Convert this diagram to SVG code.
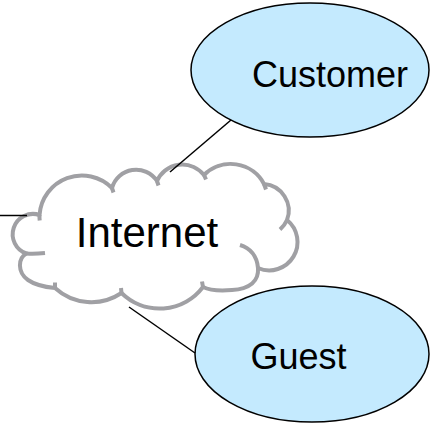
<svg xmlns="http://www.w3.org/2000/svg" width="435" height="425" viewBox="0 0 435 425">
  <style>
    .ell { fill: #c4eafe; stroke: #000; stroke-width: 1.5; }
    .cloud { fill: #fff; stroke: #a0a0a4; stroke-width: 4; stroke-linejoin: round; }
    .tick { fill: none; stroke: #a0a0a4; stroke-width: 4; }
    .lbl { font-family: "Liberation Sans", Arial, sans-serif; fill: #000; text-anchor: middle; }
    .conn { stroke: #000; stroke-width: 1.5; fill: none; }
  </style>
  <rect width="435" height="425" fill="#fff"/>
  <g id="customer">
    <ellipse class="ell" cx="310" cy="70" rx="119" ry="67"/>
    <text class="lbl" x="330" y="87" font-size="36">Customer</text>
  </g>
  <g id="guest">
    <ellipse class="ell" cx="312" cy="354" rx="117" ry="68"/>
    <text class="lbl" x="298.5" y="369" font-size="36">Guest</text>
  </g>
  <g id="internet">
    <path class="cloud" d="M39.5,215 A42.5,42.5 0 0 1 112,188 A25,25 0 0 1 157,181 A27.7,27.7 0 0 1 204,175 A37.7,37.7 0 0 1 264,184 A26.7,26.7 0 0 1 287,220 A28.3,28.3 0 0 1 258,268 C259,281 250,289 232,290 C220,291 209,290 203,287 A54.5,54.5 0 0 1 121.5,293 A54,54 0 0 1 55,288 C45,287 35,285 28,280 C17,272 18,258 26.5,253.5 A20,20 0 1 1 39.5,215 Z"/>
    <path class="tick" d="M39.5,215 A42.5,42.5 0 0 0 39.7,220.5"/>
    <path class="tick" d="M112,188 L113.5,192.5"/>
    <path class="tick" d="M157,181 L158.5,185.5"/>
    <path class="tick" d="M204,175 L206,179.5"/>
    <path class="tick" d="M264,184 L266,189.5"/>
    <path class="tick" d="M287,220 A26.7,26.7 0 0 1 280,229.5"/>
    <path class="tick" d="M240,245 C250,248 257,256 258,268"/>
    <path class="tick" d="M203,287 L202,281.5"/>
    <path class="tick" d="M121.5,293 L121,288"/>
    <path class="tick" d="M55,288 L55,282.5"/>
    <path class="tick" d="M26.5,253.5 C33,254 40,253.5 45,253"/>
    <text class="lbl" x="147" y="247" font-size="42">Internet</text>
  </g>
  <g id="connectors">
    <line class="conn" x1="0" y1="215.5" x2="27" y2="215.5"/>
    <line class="conn" x1="170" y1="172" x2="231" y2="120"/>
    <line class="conn" x1="129" y1="307" x2="195" y2="353"/>
  </g>
</svg>
